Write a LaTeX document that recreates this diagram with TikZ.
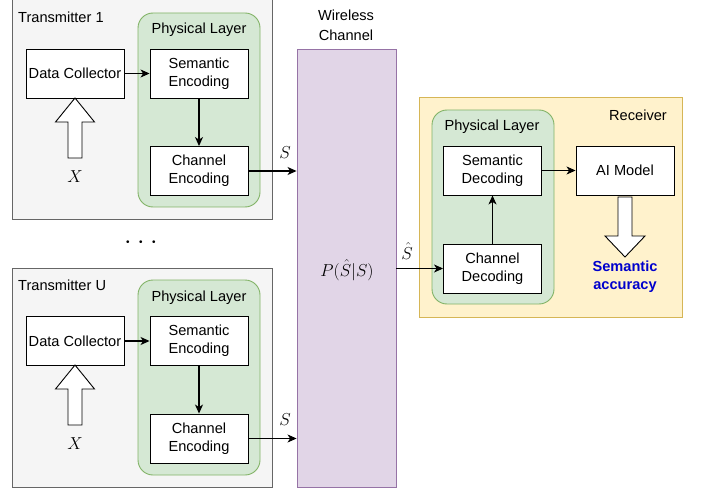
\documentclass[tikz,border=0pt]{standalone}
\usepackage{fontspec}
\setmainfont{Liberation Sans}
\usetikzlibrary{arrows,arrows.meta,positioning}

\definecolor{txfill}{HTML}{F5F5F5}
\definecolor{txline}{HTML}{666666}
\definecolor{phyfill}{HTML}{D5E8D4}
\definecolor{phyline}{HTML}{82B366}
\definecolor{chfill}{HTML}{E1D5E7}
\definecolor{chline}{HTML}{9673A6}
\definecolor{rxfill}{HTML}{FFF2CC}
\definecolor{rxline}{HTML}{D6B656}
\definecolor{accblue}{HTML}{0000CC}

\tikzset{
  blk/.style={rectangle,draw=black,fill=white,line width=0.9pt,minimum width=98pt,minimum height=49pt,inner sep=0pt,align=center,font=\fontsize{14.6}{18}\selectfont},
  txbox/.style={draw=txline,fill=txfill,line width=0.9pt},
  phybox/.style={draw=phyline,fill=phyfill,line width=0.9pt,rounded corners=15pt},
  lbl/.style={inner sep=0pt,align=center,font=\fontsize{14.6}{20}\selectfont},
  mlbl/.style={inner sep=0pt,font=\fontsize{17}{18}\selectfont},
  hollow/.style={draw=black,fill=white,line width=0.9pt,line join=miter},
  flow/.style={-{Stealth[length=9pt,width=8pt,inset=2.5pt]},line width=1.1pt}
}

\begin{document}
\begin{tikzpicture}[x=1pt,y=-1pt]
\useasboundingbox (0,0) rectangle (701,489);
% transmitter 1
\draw[txbox] (12,-1) rectangle (272,219);
\node[lbl,anchor=west] (t1) at (18,17){Transmitter 1};
\draw[phybox] (138,13) rectangle (260,207);
\node[lbl] (p1) at (199,30){Physical Layer};
\node[blk] (dc1) at (75,73.5){Data Collector};
\node[blk] (se1) at (199,73.5){Semantic\\Encoding};
\node[blk] (ce1) at (199,171){Channel\\Encoding};
\draw[hollow] (75,98) -- (94.5,122) -- (82,122) -- (82,158) -- (68,158) -- (68,122) -- (55.5,122) -- cycle;
\node[mlbl] (x1) at (75,177){$X$};
\node[mlbl] (s1) at (285,153){$S$};
% dots
\node[lbl] (dots) at (141,243){\fontsize{10}{10}\selectfont\textbullet\hspace{9.5pt}\textbullet\hspace{9.5pt}\textbullet};
% transmitter U
\draw[txbox] (12,268) rectangle (272,487);
\node[lbl,anchor=west] (tu) at (18,285){Transmitter U};
\draw[phybox] (138,280) rectangle (260,475);
\node[lbl] (pu) at (199,298){Physical Layer};
\node[blk] (dcu) at (75,341){Data Collector};
\node[blk] (seu) at (199,341){Semantic\\Encoding};
\node[blk] (ceu) at (199,438.5){Channel\\Encoding};
\draw[hollow] (75,365) -- (94.5,389) -- (82,389) -- (82,425) -- (68,425) -- (68,389) -- (55.5,389) -- cycle;
\node[mlbl] (xu) at (75,444){$X$};
\node[mlbl] (su) at (285,420){$S$};
% wireless channel
\node[rectangle,draw=chline,fill=chfill,line width=0.9pt,minimum width=99pt,minimum height=438pt,inner sep=0pt] (wc) at (346.5,268){};
\node[lbl] (wclbl) at (346,25){Wireless\\Channel};
\node[mlbl] (pss) at (347,270){$P(\hat{S}|S)$};
% receiver
\draw[draw=rxline,fill=rxfill,line width=0.9pt] (419,97) rectangle (682,317);
\node[lbl] (rx) at (638,115){Receiver};
\draw[phybox] (432,110) rectangle (554,304);
\node[lbl] (pr) at (492,127){Physical Layer};
\node[blk] (sd) at (492.5,170.5){Semantic\\Decoding};
\node[blk] (cd) at (492.5,268.5){Channel\\Decoding};
\node[blk] (ai) at (625,170.5){AI Model};
\draw[hollow] (618,197) -- (632,197) -- (632,236) -- (645,236) -- (625,257) -- (605,236) -- (618,236) -- cycle;
\node[lbl,text=accblue,font=\bfseries\fontsize{14.6}{18}\selectfont] (acc) at (625,277){Semantic\\accuracy};
\node[mlbl] (shat) at (407,251){$\hat{S}$};
% connectors
\draw[flow] (dc1) -- (se1);
\draw[flow] (se1) -- (ce1);
\draw[flow] (ce1.east) -- (ce1.east -| wc.west);
\draw[flow] (dcu) -- (seu);
\draw[flow] (seu) -- (ceu);
\draw[flow] (ceu.east) -- (ceu.east -| wc.west);
\draw[flow] (cd.west -| wc.east) -- (cd.west);
\draw[flow] (cd) -- (sd);
\draw[flow] (sd) -- (ai);
\end{tikzpicture}
\end{document}
